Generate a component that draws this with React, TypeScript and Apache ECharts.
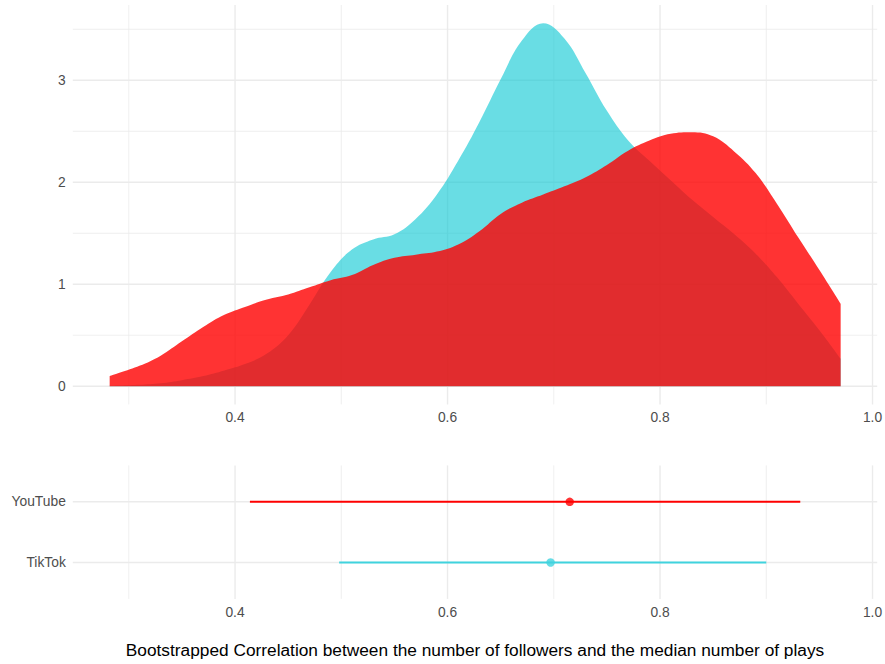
import React, { useEffect, useRef } from "react";
import * as echarts from "echarts";

// Density grid (bootstrapped correlation values)
const densityX = [0.282, 0.31, 0.33, 0.35, 0.37, 0.39, 0.41, 0.43, 0.45, 0.47, 0.49, 0.51, 0.53, 0.55, 0.57, 0.59, 0.61, 0.63, 0.65, 0.67, 0.69, 0.71, 0.73, 0.75, 0.77, 0.79, 0.81, 0.83, 0.85, 0.87, 0.89, 0.91, 0.93, 0.95, 0.97];
const tiktokDensity = [0.005, 0.015, 0.03, 0.06, 0.1, 0.155, 0.22, 0.32, 0.5, 0.8, 1.12, 1.34, 1.44, 1.49, 1.64, 1.88, 2.21, 2.59, 3.01, 3.39, 3.56, 3.41, 3.07, 2.7, 2.41, 2.21, 2.02, 1.83, 1.66, 1.49, 1.3, 1.07, 0.81, 0.55, 0.27];
const youtubeDensity = [0.1, 0.2, 0.3, 0.44, 0.58, 0.7, 0.78, 0.85, 0.9, 0.97, 1.04, 1.09, 1.19, 1.26, 1.29, 1.32, 1.39, 1.52, 1.69, 1.8, 1.88, 1.96, 2.05, 2.17, 2.31, 2.41, 2.475, 2.49, 2.45, 2.3, 2.09, 1.79, 1.46, 1.14, 0.81];

// Interval panel
const categories = ["TikTok", "YouTube"];
const ciLow = [0.498, 0.414];
const ciHigh = [0.9, 0.932];
const estimates = [0.697, 0.715];

// Tick values
const xMajor = [0.4, 0.6, 0.8, 1.0];
const xMinor = [0.3, 0.5, 0.7, 0.9];
const yMajor = [0, 1, 2, 3];
const yMinor = [0.5, 1.5, 2.5, 3.5];
const catTicks = [1, 2];

const xTitle = "Bootstrapped Correlation between the number of followers and the median number of plays";

const COLORS = {
  tiktokFill: "rgba(5,198,210,0.6)",
  youtubeFill: "rgba(255,0,0,0.8)",
  tiktokLine: "rgb(64,211,222)",
  youtubeLine: "#FF0000",
  grid: "#EBEBEB",
  text: "#4D4D4D",
};

const FONT = "Liberation Sans, Arial, Helvetica, sans-serif";

function gridLines(xi: number, yi: number, values: number[], orient: "v" | "h", width: number, other: number) {
  return {
    type: "custom",
    xAxisIndex: xi,
    yAxisIndex: yi,
    silent: true,
    z: 0,
    encode: { x: 0, y: 1 },
    data: values.map((v) => (orient === "v" ? [v, other] : [other, v])),
    renderItem: (params: any, api: any) => {
      const cs = params.coordSys;
      const p = api.coord([api.value(0), api.value(1)]);
      const shape =
        orient === "v"
          ? { x1: p[0], y1: cs.y, x2: p[0], y2: cs.y + cs.height }
          : { x1: cs.x, y1: p[1], x2: cs.x + cs.width, y2: p[1] };
      return { type: "line", shape, style: { stroke: COLORS.grid, lineWidth: width } };
    },
  };
}

export default function App() {
  const ref = useRef<HTMLDivElement>(null);
  useEffect(() => {
    document.body.style.margin = "0";
    if (!ref.current) return;
    const chart = echarts.init(ref.current, undefined, { renderer: "svg" });
    const gridLeft = 72.8;
    const gridWidth = 804.4;
    const xMin = 0.2473;
    const xMax = 1.0044;
    const labelStyle = { color: COLORS.text, fontSize: 13.8, fontFamily: FONT };
    const option: any = {
      animation: false,
      backgroundColor: "#FFFFFF",
      textStyle: { fontFamily: FONT },
      title: {
        text: xTitle,
        left: 475,
        top: 641,
        textAlign: "center",
        textStyle: { color: "#000000", fontSize: 17.3, fontWeight: "normal", fontFamily: FONT },
        padding: 0,
      },
      grid: [
        { left: gridLeft, width: gridWidth, top: 5, height: 399.4, outerBoundsMode: "none" },
        { left: gridLeft, width: gridWidth, top: 465.4, height: 133.5, outerBoundsMode: "none" },
      ],
      xAxis: [
        {
          type: "value", gridIndex: 0, min: xMin, max: xMax,
          axisLine: { show: false }, axisTick: { show: false }, splitLine: { show: false },
          axisLabel: { ...labelStyle, margin: 6, customValues: xMajor, formatter: (v: number) => v.toFixed(1) },
        },
        {
          type: "value", gridIndex: 1, min: xMin, max: xMax,
          axisLine: { show: false }, axisTick: { show: false }, splitLine: { show: false },
          axisLabel: { ...labelStyle, margin: 7, customValues: xMajor, formatter: (v: number) => v.toFixed(1) },
        },
      ],
      yAxis: [
        {
          type: "value", gridIndex: 0, min: -0.178, max: 3.738,
          axisLine: { show: false }, axisTick: { show: false }, splitLine: { show: false },
          axisLabel: { ...labelStyle, margin: 7, customValues: yMajor, formatter: (v: number) => String(v) },
        },
        {
          type: "value", gridIndex: 1, min: 0.4, max: 2.6,
          axisLine: { show: false }, axisTick: { show: false }, splitLine: { show: false },
          axisLabel: { ...labelStyle, margin: 7, customValues: catTicks, formatter: (v: number) => categories[Math.round(v) - 1] ?? "" },
        },
      ],
      series: [
        gridLines(0, 0, xMinor, "v", 0.8, 1),
        gridLines(0, 0, xMajor, "v", 1.4, 1),
        gridLines(0, 0, yMinor, "h", 0.8, 0.5),
        gridLines(0, 0, yMajor, "h", 1.4, 0.5),
        gridLines(1, 1, xMinor, "v", 0.8, 1.5),
        gridLines(1, 1, xMajor, "v", 1.4, 1.5),
        gridLines(1, 1, catTicks, "h", 1.4, 0.5),
        {
          type: "line", name: "TikTok", xAxisIndex: 0, yAxisIndex: 0, z: 2,
          smooth: 0.4, symbol: "none", silent: true,
          lineStyle: { width: 0 },
          areaStyle: { color: COLORS.tiktokFill, opacity: 1 },
          data: densityX.map((x, i) => [x, tiktokDensity[i]]),
        },
        {
          type: "line", name: "YouTube", xAxisIndex: 0, yAxisIndex: 0, z: 3,
          smooth: 0.4, symbol: "none", silent: true,
          lineStyle: { width: 0 },
          areaStyle: { color: COLORS.youtubeFill, opacity: 1 },
          data: densityX.map((x, i) => [x, youtubeDensity[i]]),
        },
        ...categories.map((c, i) => ({
          type: "line", name: c + " interval", xAxisIndex: 1, yAxisIndex: 1, z: 3,
          symbol: "none", silent: true,
          lineStyle: { width: 1.9, color: i === 0 ? COLORS.tiktokLine : COLORS.youtubeLine },
          data: [[ciLow[i], i + 1], [ciHigh[i], i + 1]],
        })),
        {
          type: "scatter", xAxisIndex: 1, yAxisIndex: 1, z: 4, silent: true,
          symbolSize: 8.5,
          data: categories.map((c, i) => ({
            value: [estimates[i], i + 1],
            itemStyle: { color: i === 0 ? COLORS.tiktokLine : COLORS.youtubeLine },
          })),
        },
      ],
    };
    chart.setOption(option);
    return () => chart.dispose();
  }, []);
  return <div ref={ref} style={{ width: 885, height: 664 }} />;
}
